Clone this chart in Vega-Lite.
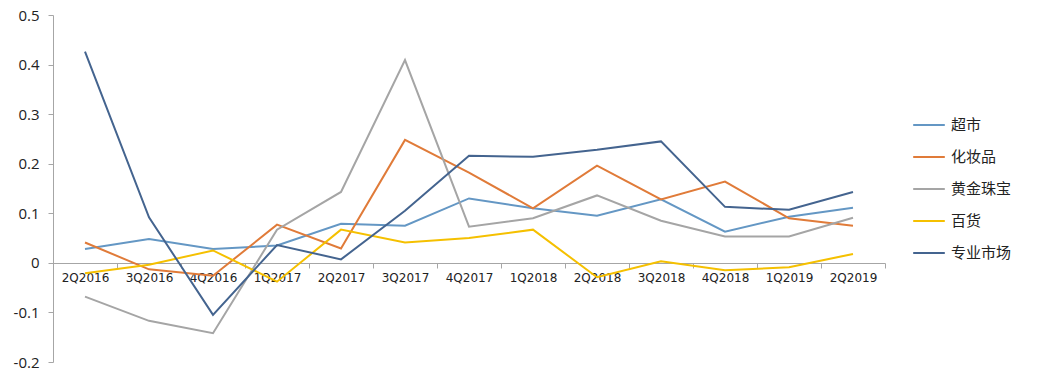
{
  "$schema": "https://vega.github.io/schema/vega-lite/v6.json",
  "autosize": {"type": "none"},
  "width": 832,
  "height": 347,
  "padding": {"left": 53, "top": 15, "right": 152, "bottom": 16},
  "background": "white",
  "config": {"view": {"stroke": null}, "font": "DejaVu Sans"},
  "data": {"values": [
    {"q": "2Q2016", "s": "超市", "v": 0.028}, {"q": "3Q2016", "s": "超市", "v": 0.048}, {"q": "4Q2016", "s": "超市", "v": 0.028}, {"q": "1Q2017", "s": "超市", "v": 0.035}, {"q": "2Q2017", "s": "超市", "v": 0.079}, {"q": "3Q2017", "s": "超市", "v": 0.075}, {"q": "4Q2017", "s": "超市", "v": 0.130}, {"q": "1Q2018", "s": "超市", "v": 0.110}, {"q": "2Q2018", "s": "超市", "v": 0.095}, {"q": "3Q2018", "s": "超市", "v": 0.128}, {"q": "4Q2018", "s": "超市", "v": 0.063}, {"q": "1Q2019", "s": "超市", "v": 0.093}, {"q": "2Q2019", "s": "超市", "v": 0.111},
    {"q": "2Q2016", "s": "化妆品", "v": 0.041}, {"q": "3Q2016", "s": "化妆品", "v": -0.013}, {"q": "4Q2016", "s": "化妆品", "v": -0.026}, {"q": "1Q2017", "s": "化妆品", "v": 0.077}, {"q": "2Q2017", "s": "化妆品", "v": 0.029}, {"q": "3Q2017", "s": "化妆品", "v": 0.248}, {"q": "4Q2017", "s": "化妆品", "v": 0.182}, {"q": "1Q2018", "s": "化妆品", "v": 0.110}, {"q": "2Q2018", "s": "化妆品", "v": 0.196}, {"q": "3Q2018", "s": "化妆品", "v": 0.128}, {"q": "4Q2018", "s": "化妆品", "v": 0.164}, {"q": "1Q2019", "s": "化妆品", "v": 0.090}, {"q": "2Q2019", "s": "化妆品", "v": 0.075},
    {"q": "2Q2016", "s": "黄金珠宝", "v": -0.068}, {"q": "3Q2016", "s": "黄金珠宝", "v": -0.117}, {"q": "4Q2016", "s": "黄金珠宝", "v": -0.142}, {"q": "1Q2017", "s": "黄金珠宝", "v": 0.067}, {"q": "2Q2017", "s": "黄金珠宝", "v": 0.143}, {"q": "3Q2017", "s": "黄金珠宝", "v": 0.409}, {"q": "4Q2017", "s": "黄金珠宝", "v": 0.073}, {"q": "1Q2018", "s": "黄金珠宝", "v": 0.090}, {"q": "2Q2018", "s": "黄金珠宝", "v": 0.136}, {"q": "3Q2018", "s": "黄金珠宝", "v": 0.085}, {"q": "4Q2018", "s": "黄金珠宝", "v": 0.053}, {"q": "1Q2019", "s": "黄金珠宝", "v": 0.053}, {"q": "2Q2019", "s": "黄金珠宝", "v": 0.091},
    {"q": "2Q2016", "s": "百货", "v": -0.021}, {"q": "3Q2016", "s": "百货", "v": -0.004}, {"q": "4Q2016", "s": "百货", "v": 0.025}, {"q": "1Q2017", "s": "百货", "v": -0.038}, {"q": "2Q2017", "s": "百货", "v": 0.067}, {"q": "3Q2017", "s": "百货", "v": 0.041}, {"q": "4Q2017", "s": "百货", "v": 0.050}, {"q": "1Q2018", "s": "百货", "v": 0.067}, {"q": "2Q2018", "s": "百货", "v": -0.029}, {"q": "3Q2018", "s": "百货", "v": 0.003}, {"q": "4Q2018", "s": "百货", "v": -0.015}, {"q": "1Q2019", "s": "百货", "v": -0.009}, {"q": "2Q2019", "s": "百货", "v": 0.018},
    {"q": "2Q2016", "s": "专业市场", "v": 0.426}, {"q": "3Q2016", "s": "专业市场", "v": 0.092}, {"q": "4Q2016", "s": "专业市场", "v": -0.105}, {"q": "1Q2017", "s": "专业市场", "v": 0.036}, {"q": "2Q2017", "s": "专业市场", "v": 0.007}, {"q": "3Q2017", "s": "专业市场", "v": 0.105}, {"q": "4Q2017", "s": "专业市场", "v": 0.216}, {"q": "1Q2018", "s": "专业市场", "v": 0.214}, {"q": "2Q2018", "s": "专业市场", "v": 0.228}, {"q": "3Q2018", "s": "专业市场", "v": 0.245}, {"q": "4Q2018", "s": "专业市场", "v": 0.113}, {"q": "1Q2019", "s": "专业市场", "v": 0.107}, {"q": "2Q2019", "s": "专业市场", "v": 0.143}
  ]},
  "mark": {"type": "line", "strokeWidth": 2},
  "encoding": {
    "x": {
      "field": "q", "type": "ordinal", "sort": null,
      "scale": {"type": "band", "paddingInner": 0, "paddingOuter": 0},
      "axis": {"title": null, "labelAngle": 0, "offset": -99, "domainColor": "#A6A6A6", "tickColor": "#A6A6A6", "tickBand": "extent", "tickSize": 5, "labelFontSize": 12, "labelColor": "#222", "labelPadding": 4, "labelFont": "DejaVu Sans"}
    },
    "y": {
      "field": "v", "type": "quantitative",
      "scale": {"domain": [-0.2, 0.5], "nice": false, "zero": false},
      "axis": {"title": null, "values": [-0.2, -0.1, 0, 0.1, 0.2, 0.3, 0.4, 0.5], "labelExpr": "datum.value == 0 ? '0' : replace(format(datum.value, '.1f'), '−', '-')", "grid": false, "domainColor": "#A6A6A6", "tickColor": "#A6A6A6", "tickSize": 5, "labelFontSize": 15, "labelColor": "#222", "labelPadding": 9, "labelFont": "Open Sans"}
    },
    "color": {
      "field": "s", "type": "nominal",
      "scale": {"domain": ["超市", "化妆品", "黄金珠宝", "百货", "专业市场"], "range": ["#6497C4", "#E07B39", "#A5A5A5", "#F5C000", "#44648F"]},
      "legend": {"title": null, "orient": "none", "legendX": 859, "legendY": 93, "symbolType": "stroke", "symbolSize": 1000, "symbolStrokeWidth": 2, "labelFontSize": 15, "labelFont": "Noto Sans CJK SC", "labelColor": "#222", "rowPadding": 7, "labelOffset": 5}
    }
  }
}
